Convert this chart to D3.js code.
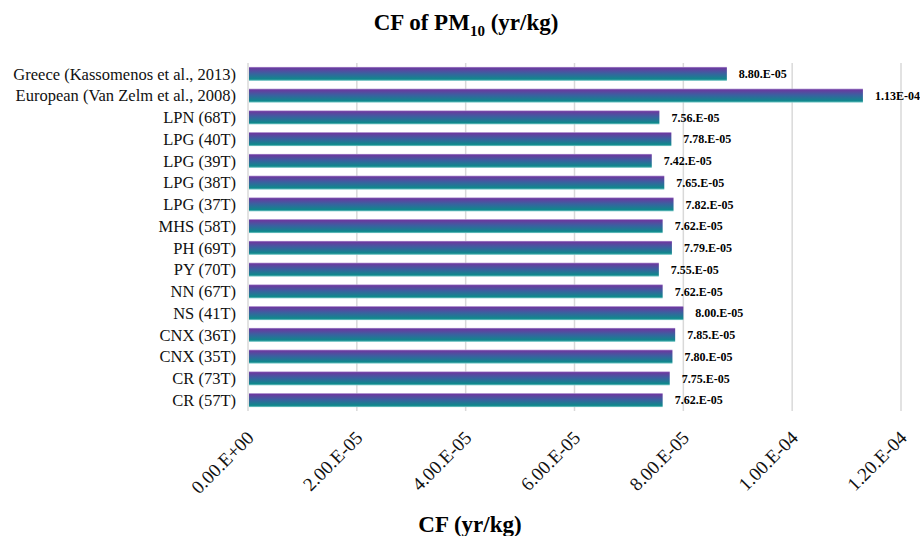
<!DOCTYPE html>
<html>
<head>
<meta charset="utf-8">
<script src="https://cdn.jsdelivr.net/npm/d3@7"></script>
<style>
  body { margin: 0; background: #fff; }
  text { font-family: "Liberation Serif", "Times New Roman", serif; }
</style>
</head>
<body>
<div id="chart_container"></div>
<script>
// chart data, top row first
var categories = ["Greece (Kassomenos et al., 2013)", "European (Van Zelm et al., 2008)",
  "LPN (68T)", "LPG (40T)", "LPG (39T)", "LPG (38T)", "LPG (37T)", "MHS (58T)",
  "PH (69T)", "PY (70T)", "NN (67T)", "NS (41T)", "CNX (36T)", "CNX (35T)", "CR (73T)", "CR (57T)"];
var values = [8.80e-5, 1.13e-4, 7.56e-5, 7.78e-5, 7.42e-5, 7.65e-5, 7.82e-5, 7.62e-5,
  7.79e-5, 7.55e-5, 7.62e-5, 8.00e-5, 7.85e-5, 7.80e-5, 7.75e-5, 7.62e-5];
var valueLabels = ["8.80.E-05", "1.13E-04", "7.56.E-05", "7.78.E-05", "7.42.E-05", "7.65.E-05",
  "7.82.E-05", "7.62.E-05", "7.79.E-05", "7.55.E-05", "7.62.E-05", "8.00.E-05", "7.85.E-05",
  "7.80.E-05", "7.75.E-05", "7.62.E-05"];
var tickValues = [0, 2e-5, 4e-5, 6e-5, 8e-5, 1e-4, 1.2e-4];
var tickLabels = ["0.00.E+00", "2.00.E-05", "4.00.E-05", "6.00.E-05", "8.00.E-05", "1.00.E-04", "1.20.E-04"];

var width = 920, height = 536;
var margin = {top: 63, left: 248, right: 19, bottom: 125};

var svg = d3.select("#chart_container").append("svg")
    .attr("width", width)
    .attr("height", height);

// purple to teal gradient for the bars
var grad = svg.append("defs").append("linearGradient")
    .attr("id", "barGrad")
    .attr("x1", 0).attr("y1", 0).attr("x2", 0).attr("y2", 1);
grad.append("stop").attr("offset", "0%").attr("stop-color", "#b49bd6");
grad.append("stop").attr("offset", "9%").attr("stop-color", "#6a3a9f");
grad.append("stop").attr("offset", "45%").attr("stop-color", "#3c5fa0");
grad.append("stop").attr("offset", "88%").attr("stop-color", "#0f888c");
grad.append("stop").attr("offset", "100%").attr("stop-color", "#7fcccb");

var x = d3.scaleLinear()
    .domain([0, 1.2e-4])
    .range([margin.left, width - margin.right]);

var y = d3.scaleBand()
    .domain(categories)
    .range([margin.top, height - margin.bottom])
    .paddingInner(0.36)
    .paddingOuter(0.18);

// vertical gridlines
svg.append("g").selectAll("line")
    .data(tickValues)
  .enter().append("line")
    .attr("x1", function(d) { return x(d); })
    .attr("x2", function(d) { return x(d); })
    .attr("y1", margin.top)
    .attr("y2", height - margin.bottom)
    .attr("stroke", "#d9d9d9")
    .attr("stroke-width", 1.5);

// bars
svg.append("g").selectAll("rect")
    .data(values)
  .enter().append("rect")
    .attr("x", x(0) + 1)
    .attr("y", function(d, i) { return y(categories[i]); })
    .attr("width", function(d) { return x(d) - x(0) - 1; })
    .attr("height", y.bandwidth())
    .style("fill", "url(#barGrad)");

// value labels
svg.append("g").selectAll("text")
    .data(values)
  .enter().append("text")
    .attr("x", function(d) { return x(d) + 12; })
    .attr("y", function(d, i) { return y(categories[i]) + y.bandwidth() / 2; })
    .attr("dy", "0.35em")
    .style("font-size", "12px")
    .style("font-weight", "bold")
    .text(function(d, i) { return valueLabels[i]; });

// category labels
svg.append("g").selectAll("text")
    .data(categories)
  .enter().append("text")
    .attr("x", 236)
    .attr("y", function(d) { return y(d) + y.bandwidth() / 2; })
    .attr("dy", "0.35em")
    .attr("text-anchor", "end")
    .style("font-size", "16.5px")
    .style("fill", "#111")
    .text(function(d) { return d; });

// rotated tick labels
svg.append("g").selectAll("text")
    .data(tickValues)
  .enter().append("text")
    .attr("transform", function(d) { return "translate(" + (x(d) + 7) + "," + 439 + ") rotate(-45)"; })
    .attr("text-anchor", "end")
    .style("font-size", "19px")
    .style("fill", "#111")
    .text(function(d, i) { return tickLabels[i]; });

// title
var title = svg.append("text")
    .attr("x", 466)
    .attr("y", 30)
    .attr("text-anchor", "middle")
    .style("font-size", "23px")
    .style("font-weight", "bold");
title.append("tspan").text("CF of PM");
title.append("tspan").attr("dy", 6).style("font-size", "15px").text("10");
title.append("tspan").attr("dy", -6).text(" (yr/kg)");

// axis title
svg.append("text")
    .attr("x", 470)
    .attr("y", 532)
    .attr("text-anchor", "middle")
    .style("font-size", "23px")
    .style("font-weight", "bold")
    .text("CF (yr/kg)");
</script>
</body>
</html>
